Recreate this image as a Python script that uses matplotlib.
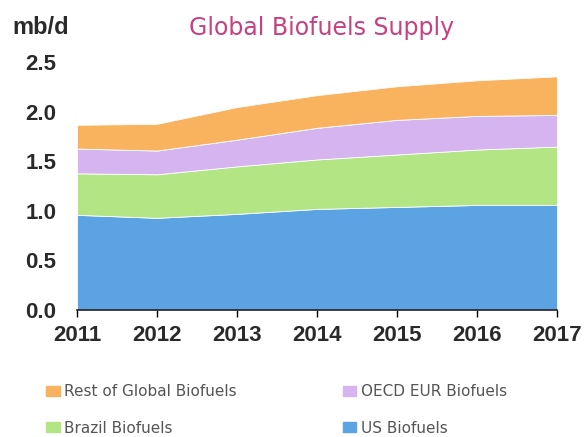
import matplotlib.pyplot as plt
from matplotlib.patches import Patch

# Global biofuels supply, mb/d
years = [2011, 2012, 2013, 2014, 2015, 2016, 2017]
us = [0.96, 0.93, 0.97, 1.02, 1.04, 1.06, 1.06]
brazil = [0.42, 0.44, 0.48, 0.50, 0.53, 0.56, 0.59]
oecd_eur = [0.25, 0.24, 0.27, 0.32, 0.35, 0.34, 0.32]
rest = [0.24, 0.27, 0.33, 0.33, 0.34, 0.36, 0.39]

labels = ["US Biofuels", "Brazil Biofuels", "OECD EUR Biofuels", "Rest of Global Biofuels"]
colors = ["#5ba3e2", "#b3e585", "#d6b4ef", "#f9b25e"]
yticks = [0.0, 0.5, 1.0, 1.5, 2.0, 2.5]

plt.rcParams['font.family'] = ['Liberation Sans', 'DejaVu Sans']

fig = plt.figure(figsize=(5.84, 4.37), dpi=100)
ax = fig.add_axes([0.132, 0.291, 0.822, 0.566])

ax.stackplot(years, us, brazil, oecd_eur, rest, colors=colors,
             edgecolor="white", linewidth=0.6)

ax.set_xlim(years[0], years[-1])
ax.set_ylim(0, 2.5)
ax.set_xticks(years)
ax.set_yticks(yticks)
ax.set_yticklabels([f"{v:.1f}" for v in yticks])
for lab in ax.get_xticklabels() + ax.get_yticklabels():
    lab.set_fontweight("bold")
    lab.set_color("#2a2a2a")
ax.tick_params(axis="x", length=5, width=1, direction="out", pad=6, labelsize=16)
ax.tick_params(axis="y", length=0, pad=15, labelsize=16)

for side in ["top", "right", "left"]:
    ax.spines[side].set_visible(False)
ax.spines["bottom"].set_color("#222222")
ax.spines["bottom"].set_linewidth(1.2)

fig.text(0.55, 0.936, "Global Biofuels Supply", color="#c8407f",
         fontsize=17, ha="center", va="center", family="DejaVu Sans")
fig.text(0.022, 0.937, "mb/d", fontsize=17, fontweight="bold",
         color="#2a2a2a", ha="left", va="center")

handles = {lab: Patch(color=c) for lab, c in zip(labels, colors)}
order = ["Rest of Global Biofuels", "Brazil Biofuels", "OECD EUR Biofuels", "US Biofuels"]
fig.legend([handles[o] for o in order], order, ncol=2, loc="upper left",
           bbox_to_anchor=(0.079, 0.121), borderaxespad=0, borderpad=0,
           frameon=False, prop={"family": "DejaVu Sans", "size": 11},
           labelcolor="#555555", handlelength=0.9, handleheight=0.65,
           handletextpad=0.3, columnspacing=6.9, labelspacing=1.4)

fig.savefig("out.png", dpi=100)
